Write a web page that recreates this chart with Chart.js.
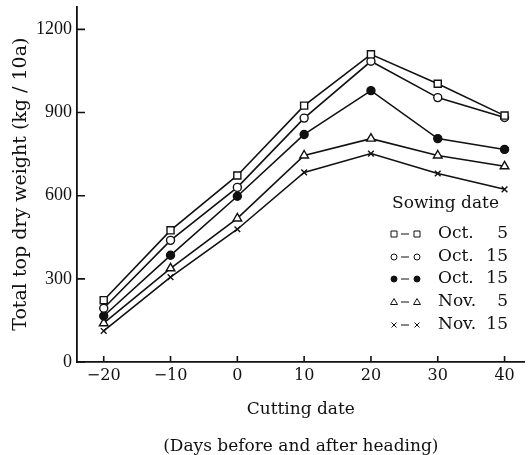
<!DOCTYPE html>
<html lang="en">
<head>
    <meta charset="UTF-8" />
    <title>Total top dry weight by cutting date</title>
    <script src="https://cdn.jsdelivr.net/npm/chart.js"></script>
    <style>
        html, body { margin: 0; padding: 0; background: #fff; }
    </style>
</head>
<body>
    <canvas id="chart" width="531" height="455"></canvas>

    <script>
        // cutting date, days before (-) and after heading
        const cuttingDays = [-20, -10, 0, 10, 20, 30, 40];

        // total top dry weight (kg/10a) for each sowing date
        const oct5 = [223, 475, 673, 925, 1110, 1004, 889];
        const oct15Open = [194, 439, 630, 880, 1085, 954, 882];
        const oct15Filled = [166, 385, 598, 821, 979, 806, 767];
        const nov5 = [140, 338, 518, 745, 806, 745, 706];
        const nov15 = [112, 306, 479, 684, 752, 680, 623];

        const sowingMonths = ['Oct.', 'Oct.', 'Oct.', 'Nov.', 'Nov.'];
        const sowingDays = ['5', '15', '15', '5', '15'];

        const xTicks = [-20, -10, 0, 10, 20, 30, 40];
        const yTicks = [0, 300, 600, 900, 1200];

        const serif = "'DejaVu Serif', 'Liberation Serif', serif";
        const numSerif = "'Liberation Serif', 'DejaVu Serif', serif";

        function series(values, style, filled, radius) {
            return {
                data: cuttingDays.map((d, i) => ({ x: d, y: values[i] })),
                borderColor: '#111',
                borderWidth: 1.6,
                pointStyle: style,
                pointRadius: radius,
                pointBorderWidth: 1.4,
                pointBorderColor: '#111',
                pointBackgroundColor: filled ? '#111' : '#fff',
                tension: 0
            };
        }

        const datasets = [
            series(oct5, 'rect', false, 5),
            series(oct15Open, 'circle', false, 4),
            series(oct15Filled, 'circle', true, 4),
            series(nov5, 'triangle', false, 5),
            series(nov15, 'crossRot', false, 4)
        ];

        // small marker for the legend box
        function drawMark(ctx, ds, x, y) {
            ctx.save();
            ctx.strokeStyle = '#111';
            ctx.fillStyle = ds.pointBackgroundColor;
            ctx.lineWidth = 1;
            ctx.beginPath();
            if (ds.pointStyle === 'rect') {
                ctx.rect(x - 3, y - 3, 6, 6);
            } else if (ds.pointStyle === 'circle') {
                ctx.arc(x, y, 3, 0, Math.PI * 2);
            } else if (ds.pointStyle === 'triangle') {
                ctx.moveTo(x, y - 3.5);
                ctx.lineTo(x + 3.5, y + 2.5);
                ctx.lineTo(x - 3.5, y + 2.5);
                ctx.closePath();
            } else {
                ctx.moveTo(x - 2.5, y - 2.5); ctx.lineTo(x + 2.5, y + 2.5);
                ctx.moveTo(x + 2.5, y - 2.5); ctx.lineTo(x - 2.5, y + 2.5);
            }
            if (ds.pointStyle !== 'crossRot') ctx.fill();
            ctx.stroke();
            ctx.restore();
        }

        const inwardTicks = {
            id: 'inwardTicks',
            afterDraw(chart) {
                const { ctx, chartArea, scales } = chart;
                ctx.save();
                ctx.strokeStyle = '#111';
                ctx.lineWidth = 1.6;
                ctx.beginPath();
                xTicks.forEach(v => {
                    const px = scales.x.getPixelForValue(v);
                    ctx.moveTo(px, chartArea.bottom);
                    ctx.lineTo(px, chartArea.bottom - 6);
                });
                yTicks.forEach(v => {
                    const py = scales.y.getPixelForValue(v);
                    ctx.moveTo(chartArea.left, py);
                    ctx.lineTo(chartArea.left + 8, py);
                });
                ctx.stroke();

                // legend
                ctx.fillStyle = '#111';
                ctx.textBaseline = 'middle';
                ctx.font = '17px ' + serif;
                ctx.textAlign = 'left';
                ctx.fillText('Sowing date', 392, 204);
                const rows = [234, 257, 279, 302, 325];
                chart.data.datasets.forEach((ds, i) => {
                    const y = rows[i];
                    drawMark(ctx, ds, 394, y);
                    ctx.beginPath();
                    ctx.lineWidth = 1;
                    ctx.moveTo(401, y);
                    ctx.lineTo(409, y);
                    ctx.stroke();
                    drawMark(ctx, ds, 417, y);
                    ctx.textAlign = 'left';
                    ctx.fillText(sowingMonths[i], 438, y);
                    ctx.textAlign = 'right';
                    ctx.fillText(sowingDays[i], 508, y);
                });
                ctx.restore();
            }
        };

        new Chart(document.getElementById('chart'), {
            type: 'line',
            data: { datasets },
            options: {
                responsive: false,
                animation: false,
                layout: { padding: { top: 5, right: 3, left: 0, bottom: 0 } },
                plugins: { legend: { display: false }, tooltip: { enabled: false } },
                scales: {
                    x: {
                        type: 'linear',
                        min: -24,
                        max: 43,
                        afterBuildTicks: s => { s.ticks = xTicks.map(v => ({ value: v })); },
                        afterFit: s => { s.height = 93; s.paddingLeft = 0; s.paddingRight = 0; },
                        border: { color: '#111', width: 1.8 },
                        grid: { display: true, drawOnChartArea: false, drawTicks: false, tickLength: 0 },
                        ticks: {
                            color: '#111',
                            padding: 4,
                            font: { family: serif, size: 16 },
                            callback: v => String(v).replace('-', '\u2212')
                        },
                        title: {
                            display: true,
                            text: ['Cutting date', '(Days before and after heading)'],
                            color: '#111',
                            font: { family: serif, size: 17, lineHeight: '37px' },
                            padding: { top: 0, bottom: -10 }
                        }
                    },
                    y: {
                        min: 0,
                        max: 1283,
                        afterBuildTicks: s => { s.ticks = yTicks.map(v => ({ value: v })); },
                        afterFit: s => { s.width = 77; s.paddingTop = 0; s.paddingBottom = 0; },
                        border: { color: '#111', width: 1.8 },
                        grid: { display: true, drawOnChartArea: false, drawTicks: false, tickLength: 0 },
                        ticks: {
                            color: '#111',
                            padding: 5,
                            font: { family: numSerif, size: 18 },
                            callback: v => String(v)
                        },
                        title: {
                            display: true,
                            text: 'Total top dry weight (kg / 10a)',
                            color: '#111',
                            font: { family: serif, size: 19 },
                            padding: { top: 10, bottom: 0 }
                        }
                    }
                }
            },
            plugins: [inwardTicks]
        });
    </script>
</body>
</html>
